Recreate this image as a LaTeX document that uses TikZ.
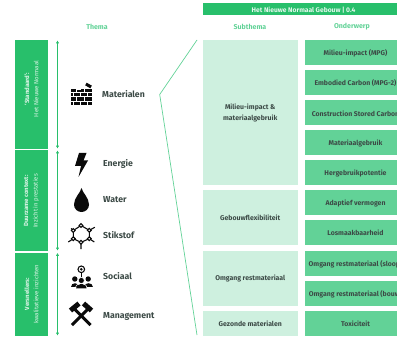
\documentclass[tikz,border=0pt]{standalone}
\usepackage{fontspec}
\setmainfont{Fira Sans}
\usetikzlibrary{arrows.meta}
\definecolor{gA}{HTML}{28BF6B}
\definecolor{gB}{HTML}{CEF0DF}
\definecolor{gC}{HTML}{62D297}
\definecolor{ink}{HTML}{3C4A46}
\definecolor{icon}{HTML}{0A0A0A}
\tikzset{
 bx/.style={inner sep=0pt,outer sep=0pt,align=center,font=\fontsize{6.9}{11}\selectfont\bfseries,text=ink},
 lbl/.style={anchor=base west,inner sep=0pt,font=\fontsize{8.7}{10}\selectfont\bfseries,text=ink},
 hd/.style={inner sep=0pt,font=\fontsize{7}{8}\selectfont\bfseries,text=gC},
 vt/.style={rotate=90,align=center,inner sep=0pt,text=white!85!gA,font=\fontsize{6}{9.4}\selectfont},
 ar/.style={draw=gA,line width=1pt,{Latex[length=2.8pt,width=3.2pt]}-{Latex[length=2.8pt,width=3.2pt]}},
 ic/.style={fill=icon,draw=none},
 icl/.style={draw=icon,line width=1.1pt},
 joint/.style={draw=white,line width=.7pt},
 ham/.style={draw=icon,line width=3pt},
 hamh/.style={draw=icon,line width=5pt},
}
\begin{document}
\begin{tikzpicture}[x=1pt,y=-1pt]
\useasboundingbox (0,0) rectangle (397,337);
\clip (0,0) rectangle (397,337);
\newcommand{\rbox}[7]{\fill[#6] (#2,#3) rectangle (#4,#5); \node[bx] (#1) at ({(#2+#4)/2},{(#3+#5)/2+.6}) {#7};}
\newcommand{\obox}[6]{\fill[gC] (304.5,#2) rectangle (397,#3); \node[bx] (#1) at (355.5,{(#2+#3)/2+.6}) {#4};}
% header
\fill[gA] (202.5,3.5) rectangle (397,15.5);
\node[bx,text=white!88!gA,font=\fontsize{6.7}{8}\selectfont\bfseries] (head) at (303.5,10) {Het Nieuwe Normaal Gebouw | 0.4};
\node[hd] (t1) at (97,26.7) {Thema};
\node[hd] (t2) at (250,26.7) {Subthema};
\node[hd] (t3) at (352,26.7) {Onderwerp};
% left bars
\fill[gA] (14.5,40) rectangle (48,149);
\fill[gA] (14.5,150) rectangle (48,251);
\fill[gA] (14.5,252.5) rectangle (48,335.5);
\node[vt] (v1) at (31.5,89) {\textbf{‘Standaard’:}\\Het Nieuwe Normaal};
\node[vt] (v2) at (31.5,201) {\textbf{Duurzame context:}\\Inzicht in prestaties};
\node[vt] (v3) at (31.5,294) {\textbf{Versnellers:}\\kwalitatieve inzichten};
\coordinate (a1) at (57.5,40.5); \coordinate (a2) at (57.5,148.5);
\coordinate (b1) at (57.5,150.5); \coordinate (b2) at (57.5,250.5);
\coordinate (c1) at (57.5,253); \coordinate (c2) at (57.5,335.5);
\draw[ar] (a1)--(a2); \draw[ar] (b1)--(b2); \draw[ar] (c1)--(c2);
% icons: bricks
\fill[ic] (71,89) rectangle (92,105);
\fill[ic,rotate around={-30:(88.5,85.5)}] (85.5,84) rectangle (91.5,87);
\foreach \y in {92.7,96.7,100.9} \draw[joint] (70,\y)--(93,\y);
\fill[white] (77,88.5) rectangle (81,89.6);
\foreach \x/\a/\b in {76/89/92.7,84/89/92.7,73/92.7/96.7,80/92.7/96.7,87/92.7/96.7,76/96.7/100.9,84/96.7/100.9,73/100.9/105,80/100.9/105,87/100.9/105} \draw[joint] (\x,\a)--(\x,\b);
% bolt
\fill[ic] (79,153)--(86.5,153)--(83.5,160.5)--(88,160.5)--(78.5,177)--(81,166)--(75,166)--cycle;
% drop
\fill[ic] (81.5,188) .. controls (80.5,193) and (74,197.5) .. (74,204.5) .. controls (74,209) and (77.5,212) .. (81.5,212) .. controls (85.5,212) and (89,209) .. (89,204.5) .. controls (89,197.5) and (82.5,193) .. (81.5,188) -- cycle;
% molecule
\draw[icl] (81,225.5)--(89.3,230.3)--(89.3,238.7)--(81,242.3)--(73.3,238.7)--(73.3,230.5)--cycle;
\draw[icl] (89.3,230.3)--(94.8,227.3) (89.3,238.7)--(94.3,242) (81,242.3)--(81,249) (73.3,238.7)--(68.3,242) (73.3,230.5)--(71,228.5);
\foreach \x/\y in {81/225.5,89.3/230.3,89.3/238.7,81/242.3,73.3/238.7,73.3/230.5} \draw[icl,fill=white] (\x,\y) circle (1.9);
% people + bulb
\draw[icl,fill=white] (81.3,269.3) circle (3.3);
\fill[ic] (81.3,269.3) circle (1.4);
\draw[icl] (81.3,272.5)--(81.3,276.5);
\fill[ic] (74.8,279) circle (2.7);
\fill[ic] (88.2,279) circle (2.7);
\fill[ic] (70.8,287) .. controls (70.8,281.5) and (79,281.5) .. (79,287) -- cycle;
\fill[ic] (84,287) .. controls (84,281.5) and (92.8,281.5) .. (92.8,287) -- cycle;
\draw[draw=white,line width=.5pt,fill=icon] (81.3,280.5) circle (3);
\draw[draw=white,line width=.5pt,fill=icon] (75.5,288.5) .. controls (75.5,281.5) and (87,281.5) .. (87,288.5) -- cycle;
% hammers
\draw[ham] (73.5,308)--(90.5,325);
\draw[ham] (89,308)--(72,325);
\draw[hamh] (70.5,310.5)--(79,303.5);
\draw[hamh] (91.5,310.5)--(83.5,303.5);
% labels
\node[lbl] (l1) at (102,97.2) {Materialen};
\node[lbl] (l2) at (103,167) {Energie};
\node[lbl] (l3) at (103,203) {Water};
\node[lbl] (l4) at (103,238.8) {Stikstof};
\node[lbl] (l5) at (103,279) {Sociaal};
\node[lbl] (l6) at (103,318) {Management};
% funnel
\coordinate (f1) at (197,40); \coordinate (f2) at (159.7,94.5); \coordinate (f3) at (197,335);
\draw[draw=gC,line width=.7pt] (f1)--(f2)--(f3);
% subthema
\rbox{s1}{202.5}{40}{298}{185}{gB}{Milieu-impact \&\\materiaalgebruik}
\rbox{s2}{202.5}{190}{298}{245}{gB}{Gebouwflexibiliteit}
\rbox{s3}{202.5}{250.5}{298}{306}{gB}{Omgang restmateriaal}
\rbox{s4}{202.5}{311}{298}{335.5}{gB}{Gezonde materialen}
% onderwerp
\obox{o1}{40}{65}{Milieu-impact (MPG)}{}{}
\obox{o2}{70}{95.5}{Embodied Carbon (MPG-2)}{}{}
\obox{o3}{100.5}{125.5}{Construction Stored Carbon}{}{}
\obox{o4}{130.5}{155.5}{Materiaalgebruik}{}{}
\obox{o5}{160.5}{185}{Hergebruikpotentie}{}{}
\obox{o6}{190}{215}{Adaptief vermogen}{}{}
\obox{o7}{220}{245}{Losmaakbaarheid}{}{}
\obox{o8}{250.5}{276}{Omgang restmateriaal (sloop)}{}{}
\obox{o9}{280.5}{306}{Omgang restmateriaal (bouw)}{}{}
\obox{o10}{311}{335.5}{Toxiciteit}{}{}
\end{tikzpicture}
\end{document}
